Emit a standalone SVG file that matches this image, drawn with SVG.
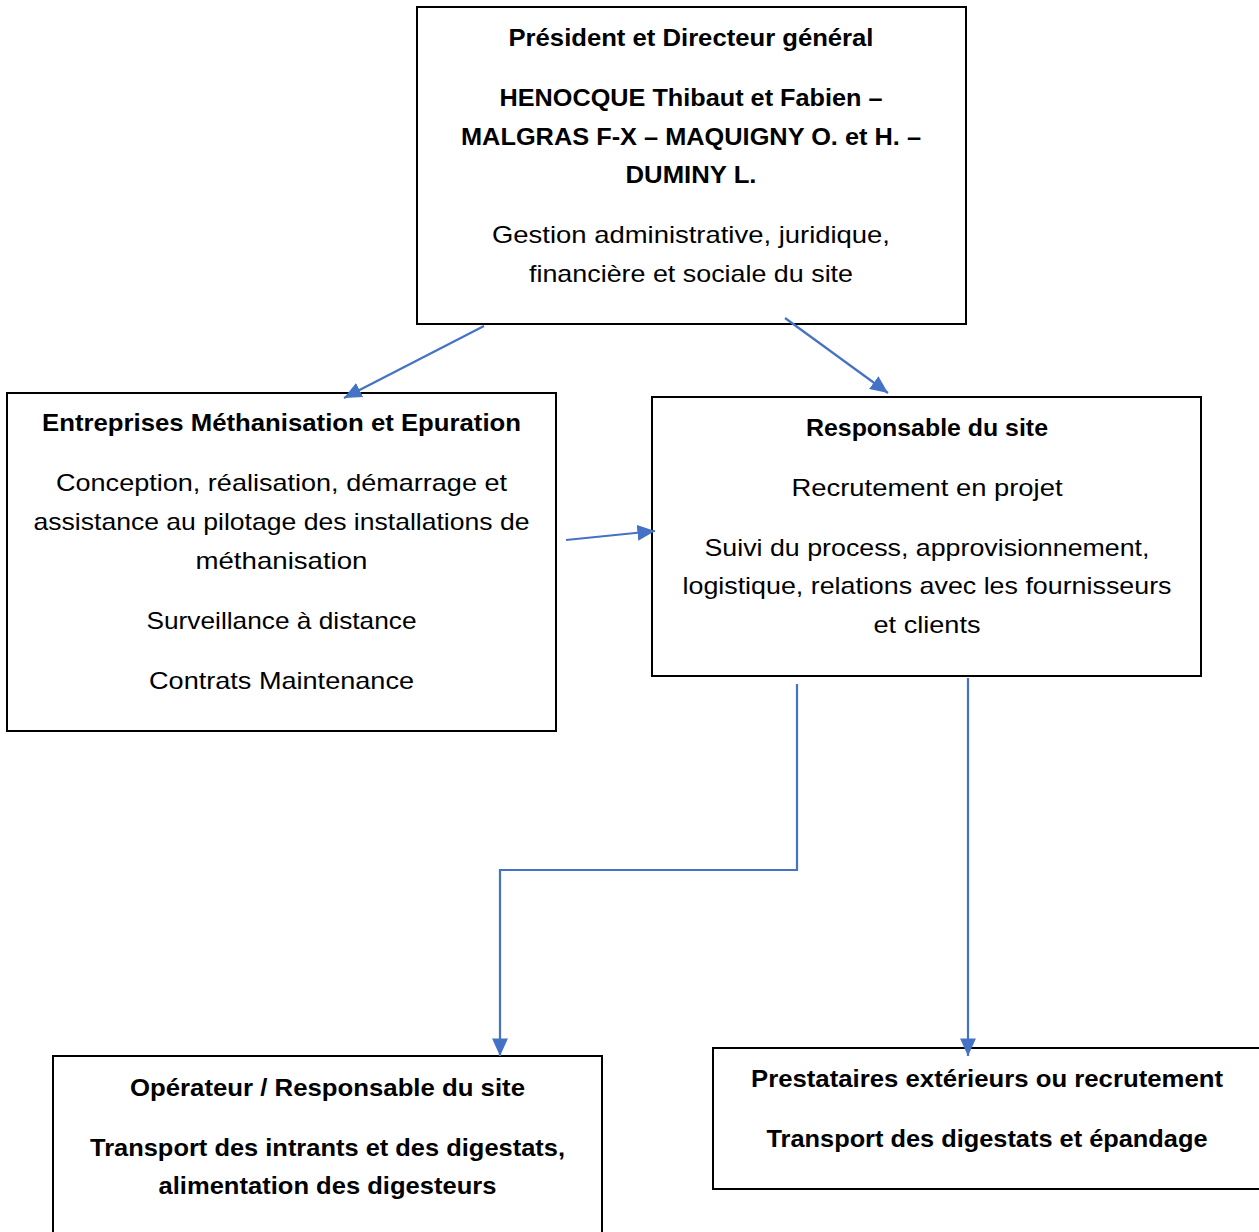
<svg xmlns="http://www.w3.org/2000/svg" width="1259" height="1232" viewBox="0 0 1259 1232">
<style>
.box{fill:#fff;stroke:#000;stroke-width:2}
text{font-family:"Liberation Sans",Arial,sans-serif;font-size:24px;fill:#000;text-anchor:middle}
.b{font-weight:bold}
.c{fill:none;stroke:#4472C4;stroke-width:2.2}
</style>
<defs>
<marker id="ah" viewBox="0 0 10 10" refX="10" refY="5" markerWidth="7" markerHeight="7" markerUnits="userSpaceOnUse" orient="auto">
<path d="M0,0 L10,5 L0,10 Z" fill="#4472C4"/>
</marker>
<marker id="a" viewBox="0 0 10 10" refX="10" refY="5" markerWidth="8" markerHeight="8" orient="auto">
<path d="M0,0.5 L10,5 L0,9.5 Z" fill="#4472C4"/>
</marker>
</defs>
<rect width="1259" height="1232" fill="#fff"/>
<g id="n1">
<rect class="box" x="417" y="7" width="549" height="317"/>
<text class="b" x="691" y="46" textLength="365" lengthAdjust="spacingAndGlyphs">Président et Directeur général</text>
<text class="b" x="691" y="106" textLength="383" lengthAdjust="spacingAndGlyphs">HENOCQUE Thibaut et Fabien –</text>
<text class="b" x="691" y="145" textLength="460" lengthAdjust="spacingAndGlyphs">MALGRAS F-X – MAQUIGNY O. et H. –</text>
<text class="b" x="691" y="183" textLength="131" lengthAdjust="spacingAndGlyphs">DUMINY L.</text>
<text x="691" y="243" textLength="398" lengthAdjust="spacingAndGlyphs">Gestion administrative, juridique,</text>
<text x="691" y="282" textLength="324" lengthAdjust="spacingAndGlyphs">financière et sociale du site</text>
</g>
<g id="n2">
<rect class="box" x="7" y="393" width="549" height="338"/>
<text class="b" x="281.5" y="431" textLength="479" lengthAdjust="spacingAndGlyphs">Entreprises Méthanisation et Epuration</text>
<text x="281.5" y="491" textLength="451" lengthAdjust="spacingAndGlyphs">Conception, réalisation, démarrage et</text>
<text x="281.5" y="530" textLength="496" lengthAdjust="spacingAndGlyphs">assistance au pilotage des installations de</text>
<text x="281.5" y="569" textLength="172" lengthAdjust="spacingAndGlyphs">méthanisation</text>
<text x="281.5" y="629" textLength="270" lengthAdjust="spacingAndGlyphs">Surveillance à distance</text>
<text x="281.5" y="689" textLength="265" lengthAdjust="spacingAndGlyphs">Contrats Maintenance</text>
</g>
<g id="n3">
<rect class="box" x="652" y="397" width="549" height="279"/>
<text class="b" x="927" y="436" textLength="242" lengthAdjust="spacingAndGlyphs">Responsable du site</text>
<text x="927" y="496" textLength="271" lengthAdjust="spacingAndGlyphs">Recrutement en projet</text>
<text x="927" y="556" textLength="445" lengthAdjust="spacingAndGlyphs">Suivi du process, approvisionnement,</text>
<text x="927" y="594" textLength="489" lengthAdjust="spacingAndGlyphs">logistique, relations avec les fournisseurs</text>
<text x="927" y="633" textLength="107" lengthAdjust="spacingAndGlyphs">et clients</text>
</g>
<g id="n4">
<rect class="box" x="53" y="1056" width="549" height="190"/>
<text class="b" x="327.5" y="1096" textLength="395" lengthAdjust="spacingAndGlyphs">Opérateur / Responsable du site</text>
<text class="b" x="327.5" y="1156" textLength="475" lengthAdjust="spacingAndGlyphs">Transport des intrants et des digestats,</text>
<text class="b" x="327.5" y="1194" textLength="338" lengthAdjust="spacingAndGlyphs">alimentation des digesteurs</text>
</g>
<g id="n5">
<rect class="box" x="713" y="1048" width="549" height="141"/>
<text class="b" x="987" y="1087" textLength="472" lengthAdjust="spacingAndGlyphs">Prestataires extérieurs ou recrutement</text>
<text class="b" x="987" y="1147" textLength="441" lengthAdjust="spacingAndGlyphs">Transport des digestats et épandage</text>
</g>
<g id="connectors">
<path class="c" d="M484,326 L344,398" marker-end="url(#a)"/>
<path class="c" d="M785,318 L888,393" marker-end="url(#a)"/>
<path class="c" d="M566,540 L655,531" marker-end="url(#a)"/>
<path class="c" d="M797,684 L797,870 L500,870 L500,1056" marker-end="url(#a)"/>
<path class="c" d="M968,678 L968,1056" marker-end="url(#a)"/>
</g>
</svg>
